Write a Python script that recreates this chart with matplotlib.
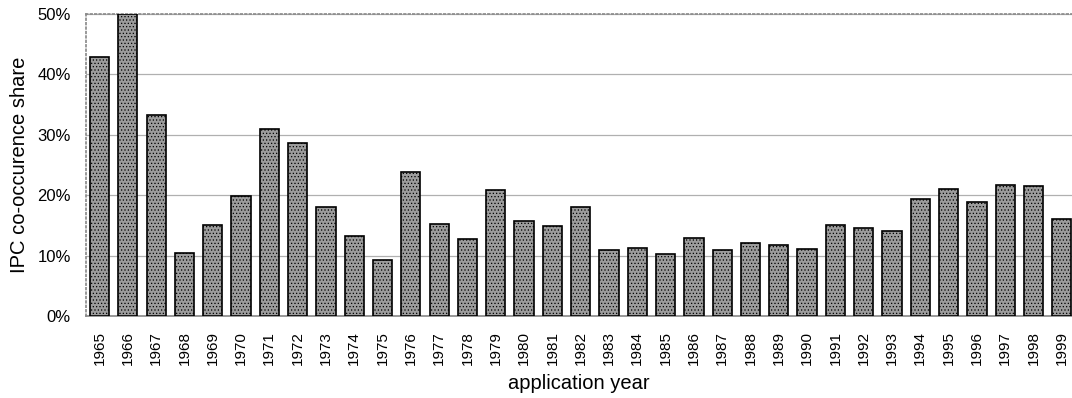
import numpy as np
import matplotlib.pyplot as plt
from matplotlib.ticker import PercentFormatter

plt.rcParams['font.family'] = ['Liberation Sans', 'DejaVu Sans']
plt.rcParams['hatch.color'] = '#7c7c7c'
plt.rcParams['hatch.linewidth'] = 0.5

years = [str(y) for y in range(1965, 2000)]
share = [42.8, 50.0, 33.2, 10.4, 15.1, 19.9, 31.0, 28.6, 18.0, 13.3,
         9.3, 23.9, 15.2, 12.7, 20.9, 15.7, 14.9, 18.0, 11.0, 11.3,
         10.3, 12.9, 11.0, 12.1, 11.8, 11.1, 15.0, 14.5, 14.1, 19.4,
         21.1, 18.9, 21.7, 21.6, 16.1]

fig = plt.figure(figsize=(10.72, 3.98), dpi=100)
ax = fig.add_axes([0.0802, 0.206, 0.9198, 0.759])

x = np.arange(len(years))
ax.bar(x, share, width=0.68, color='#9c9c9c', edgecolor='black', linewidth=1.2,
       hatch='.....', zorder=3)

ax.set_xlim(-0.48, 34.36)
ax.set_ylim(0, 50)
ax.set_yticks([0, 10, 20, 30, 40, 50])
ax.yaxis.set_major_formatter(PercentFormatter(decimals=0))
ax.grid(axis='y', color='#b0b0b0', linewidth=0.9, zorder=0)
ax.set_xticks(x)
ax.set_xticklabels(years, rotation=90, fontsize=11)
ax.tick_params(axis='x', length=0, pad=11)
ax.tick_params(axis='y', length=0, pad=11, labelsize=12)

ax.spines['right'].set_visible(False)
for s in ['top', 'left', 'bottom']:
    ax.spines[s].set_color('#888888')
    ax.spines[s].set_linestyle(':')
    ax.spines[s].set_linewidth(1.2)
ax.spines['bottom'].set_linestyle('-')

ax.set_ylabel('IPC co-occurence share', fontsize=14.5)
ax.yaxis.set_label_coords(-0.058, 0.5)
ax.set_xlabel('application year', fontsize=14.5, labelpad=6)

fig.savefig('out.png', dpi=100)
